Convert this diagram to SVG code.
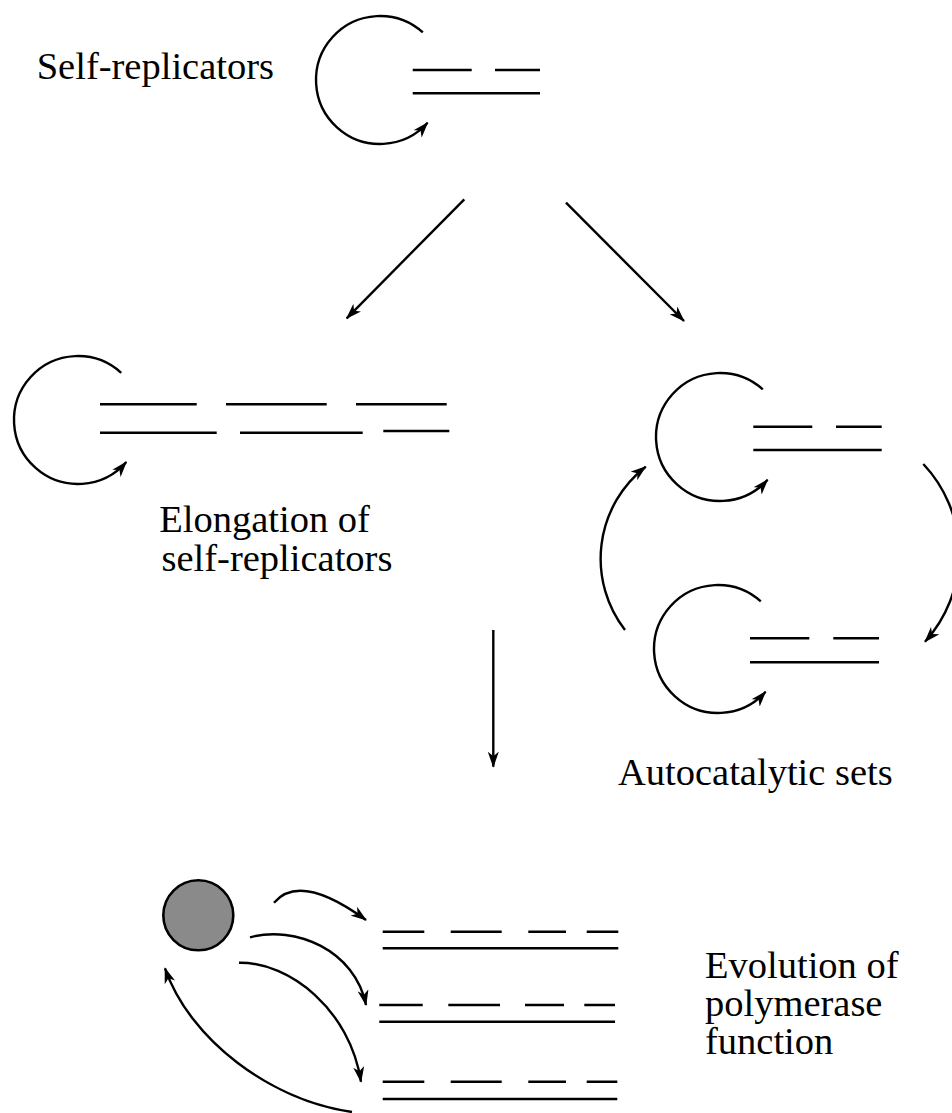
<svg xmlns="http://www.w3.org/2000/svg" width="952" height="1113" viewBox="0 0 952 1113">
<defs>
<marker id="ah" viewBox="0 0 16 11" refX="15" refY="5.5" markerWidth="16" markerHeight="11" markerUnits="userSpaceOnUse" orient="auto">
<path d="M0,0 L16,5.5 L0,11 L4.5,5.5 z" fill="#000"/>
</marker>
</defs>
<style>
.t{font-family:"Liberation Serif","Times New Roman",serif;font-size:38.5px;fill:#000}
.arc{fill:none;stroke:#000;stroke-width:2.4;marker-end:url(#ah)}
.ln{stroke:#000;stroke-width:2.6;fill:none}
.ar{fill:none;stroke:#000;stroke-width:2.4;marker-end:url(#ah)}
</style>
<rect width="952" height="1113" fill="#fff"/>

<g id="self-replicator">
<text class="t" x="36.7" y="79">Self-replicators</text>
<path class="arc" d="M422.8,32.4 A64,64 0 1 0 427.6,122.8"/>
<path class="ln" d="M412.7,70 H471.7 M495,70 H540 M412.7,93.3 H540"/>
</g>

<g id="elongation">
<path class="arc" d="M121.2,372.8 A64,64 0 1 0 126.3,462"/>
<path class="ln" d="M100,404.3 H196.7 M226,404.3 H326.7 M356,404.3 H446.7 M100,432.7 H216.7 M240,432.7 H362.7 M383.3,431 H449.3"/>
<text class="t" x="159.3" y="531.7">Elongation of</text>
<text class="t" x="161.5" y="571">self-replicators</text>
</g>

<g id="autocatalytic-top">
<path class="arc" d="M762.8,389.4 A64,64 0 1 0 767.6,479.8"/>
<path class="ln" d="M753.3,426.7 H812.3 M836,426.7 H881.7 M753.3,450 H881.7"/>
</g>

<g id="autocatalytic-bottom">
<path class="arc" d="M760.8,601.4 A64,64 0 1 0 765.6,691.8"/>
<path class="ln" d="M750,638.3 H809.3 M833.3,638.3 H879 M750,662.3 H879"/>
</g>

<g id="autocatalytic-label">
<text class="t" x="618" y="785">Autocatalytic sets</text>
</g>

<g id="polymerase">
<circle cx="198.3" cy="915.3" r="35" fill="#8a8a8a" stroke="#000" stroke-width="2.6"/>
<path class="ln" d="M382.7,931.7 H424.3 M450.7,931.7 H501.7 M528.3,931.7 H566 M586.7,931.7 H618.3 M382.7,948.3 H618.3"/>
<path class="ln" d="M379.3,1005 H422.7 M448.3,1005 H500 M525,1005 H564 M584.3,1005 H615 M379.3,1021.7 H615"/>
<path class="ln" d="M382.7,1081.7 H424.3 M450.7,1081.7 H501.7 M528.3,1081.7 H566 M586.7,1081.7 H617.3 M382.7,1099 H617.3"/>
<text class="t" x="705" y="978">Evolution of</text>
<text class="t" x="705" y="1016">polymerase</text>
<text class="t" x="705" y="1054">function</text>
</g>

<g id="connectors">
<path class="ar" d="M464.3,199.3 L346.7,318.3"/>
<path class="ar" d="M566,202.7 L684,321"/>
<path class="ar" d="M493.3,630 L493.3,766.7"/>
<path class="ar" d="M625,630 A116.5,116.5 0 0 1 645.7,466.7"/>
<path class="ar" d="M923.3,464 A130.8,130.8 0 0 1 925,641.7"/>
<path class="ar" d="M274,902.7 Q300,872 366,920"/>
<path class="ar" d="M250,937.3 C295,925 355,950 366,1005"/>
<path class="ar" d="M239,962.7 C290,962 350,1010 361,1081.7"/>
<path class="ar" d="M352,1112 C270,1100 190,1040 165,968.3"/>
</g>
</svg>
